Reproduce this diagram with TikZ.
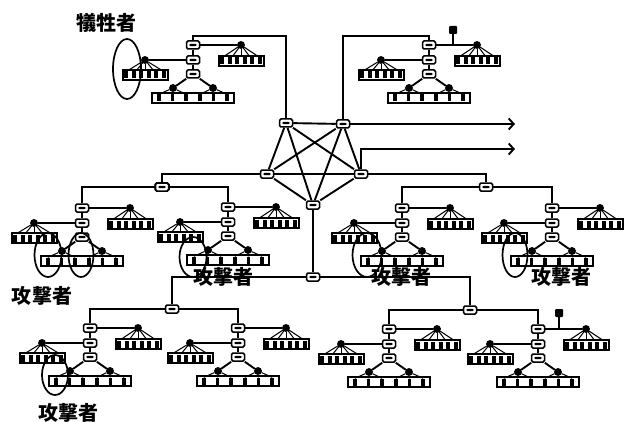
\documentclass[tikz,border=0pt]{standalone}
\usepackage{fontspec}
\newfontfamily\cjk{Noto Sans CJK JP}
\usetikzlibrary{arrows.meta,shapes.geometric}
\tikzset{
  router/.style={draw,fill=white,line width=1.5pt,rounded corners=1.5pt,minimum width=13pt,minimum height=8pt,inner sep=0pt,
    path picture={\fill[black] ([xshift=-4pt,yshift=-1.2pt]path picture bounding box.center) rectangle ([xshift=4pt,yshift=1.2pt]path picture bounding box.center);}},
  hub/.style={circle,draw,fill=black,line width=.8pt,minimum size=7pt,inner sep=0pt},
  tag/.style={rectangle,rounded corners=1pt,fill=black,minimum size=8pt,inner sep=0pt},
  portbar/.style={draw,fill=white,line width=2pt,minimum height=10pt,inner sep=0pt},
  portcell/.style={fill=black,minimum width=3.6pt,minimum height=7pt,inner sep=0pt},
  link/.style={line width=1.9pt},
  fan/.style={line width=1pt},
  attacker/.style={draw,line width=1.7pt,ellipse,inner sep=0pt},
  caption/.style={font=\cjk\bfseries\fontsize{20}{20}\selectfont,inner sep=0pt}
}
% bar of six ports: name, x, y, width
\newcommand{\portrow}[4]{
  \node[portbar,minimum width=#4pt] (#1) at (#2,#3) {};
  \foreach \i in {0,...,5}
    \node[portcell] (#1c\i) at ({#2+(\i-2.5)*#4/6},#3) {};
}
% one site below a backbone line: name, x, y of its top router
\newcommand{\lansite}[3]{
  \node[router] (#1r1) at (#2,#3) {};
  \node[router] (#1r2) at (#2,#3+15) {};
  \node[router] (#1r3) at (#2,#3+29) {};
  \node[hub] (#1hr) at (#2+48,#3) {};
  \node[hub] (#1hl) at (#2-48,#3+15) {};
  \node[hub] (#1ha) at (#2-20,#3+43) {};
  \node[hub] (#1hb) at (#2+20,#3+43) {};
  \foreach \i in {-2,...,2} {
    \coordinate (#1fr\i) at ({#2+48+\i*9},#3+12);
    \coordinate (#1fl\i) at ({#2-48+\i*9},#3+26);
    \draw[fan] (#1hr) -- (#1fr\i);
    \draw[fan] (#1hl) -- (#1fl\i);
  }
  \portrow{#1br}{#2+48}{#3+16}{45}
  \portrow{#1bl}{#2-48}{#3+30}{45}
  \portrow{#1bb}{#2}{#3+53}{82}
  \draw[link] (#1r1) -- (#1r2);
  \draw[link] (#1r2) -- (#1r3);
  \draw[link] (#1r1) -- (#1hr);
  \draw[link] (#1r2) -- (#1hl);
  \draw[link] (#1r3) -- (#1ha);
  \draw[link] (#1r3) -- (#1hb);
  \foreach \i in {0,1,2} \draw[fan] (#1ha) -- (#1bbc\i.north);
  \foreach \i in {3,4,5} \draw[fan] (#1hb) -- (#1bbc\i.north);
}
\begin{document}
\begin{tikzpicture}[x=1pt,y=-1pt]
  \useasboundingbox (0,0) rectangle (628,422);
  % backbone
  \node[router] (core1) at (286,123) {};
  \node[router] (core2) at (343,124) {};
  \node[router] (core3) at (267,174) {};
  \node[router] (core4) at (361,174) {};
  \node[router] (core5) at (313,205) {};
  \foreach \a/\b in {1/2,1/3,1/4,1/5,2/3,2/4,2/5,3/4,3/5,4/5}
    \draw[link] (core\a) -- (core\b);
  % sites
  \foreach \s/\x/\y in {A/193/45,B/429/45,C/82/208,D/228/207,E/402/208,F/552/208,G/90/328,H/238/328,I/389/329,J/538/329}
    \lansite{\s}{\x}{\y}
  % switches
  \node[router] (sw1) at (162,187) {};
  \node[router] (sw2) at (486,187) {};
  \node[router] (sw3) at (313,277) {};
  \node[router] (sw4) at (172,309) {};
  \node[router] (sw5) at (470,310) {};
  \coordinate (upA) at (193,36);
  \coordinate (upB) at (429,36);
  \draw[link] (core1) |- (upA) -- (Ar1);
  \draw[link] (core2) |- (upB) -- (Br1);
  \draw[link] (core3) -| (sw1);
  \draw[link] (core4) -| (sw2);
  \draw[link] (core5) -- (sw3);
  \draw[link] (sw3) -| (sw4);
  \draw[link] (sw3) -| (sw5);
  \draw[link] (sw1) -| (Cr1);
  \draw[link] (sw1) -| (Dr1);
  \draw[link] (sw2) -| (Er1);
  \draw[link] (sw2) -| (Fr1);
  \draw[link] (sw4) -| (Gr1);
  \draw[link] (sw4) -| (Hr1);
  \draw[link] (sw5) -| (Ir1);
  \draw[link] (sw5) -| (Jr1);
  % ways out
  \coordinate (out1) at (515,124);
  \coordinate (out2) at (515,149);
  \draw[link,-{Straight Barb[length=5pt,width=11pt]}] (core2) -- (out1);
  \draw[link,-{Straight Barb[length=5pt,width=11pt]}] (core4) |- (out2);
  % small tags
  \node[tag] (tagB) at (453,30) {};
  \node[tag] (tagJ) at (559,313) {};
  \draw[link] (tagB) -- (tagB |- Br1);
  \draw[link] (tagJ) -- (tagJ |- Jr1);
  % circled hosts
  \node[attacker,minimum width=28pt,minimum height=60pt] (ringA) at (127,69) {};
  \node[attacker,minimum width=27pt,minimum height=44pt] (ringC1) at (48,255) {};
  \node[attacker,minimum width=25pt,minimum height=44pt] (ringC2) at (81,255) {};
  \node[attacker,minimum width=27pt,minimum height=40pt] (ringD) at (193,257) {};
  \node[attacker,minimum width=29pt,minimum height=44pt] (ringE) at (367,255) {};
  \node[attacker,minimum width=25pt,minimum height=44pt] (ringF) at (515,255) {};
  \node[attacker,minimum width=26pt,minimum height=40pt] (ringG) at (55,375) {};
  % labels
  \node[caption] (victim) at (106,23) {犠牲者};
  \node[caption] (atkC) at (42,296) {攻撃者};
  \node[caption] (atkD) at (223,277) {攻撃者};
  \node[caption] (atkE) at (401,277) {攻撃者};
  \node[caption] (atkF) at (561,277) {攻撃者};
  \node[caption] (atkG) at (68,413) {攻撃者};
\end{tikzpicture}
\end{document}
